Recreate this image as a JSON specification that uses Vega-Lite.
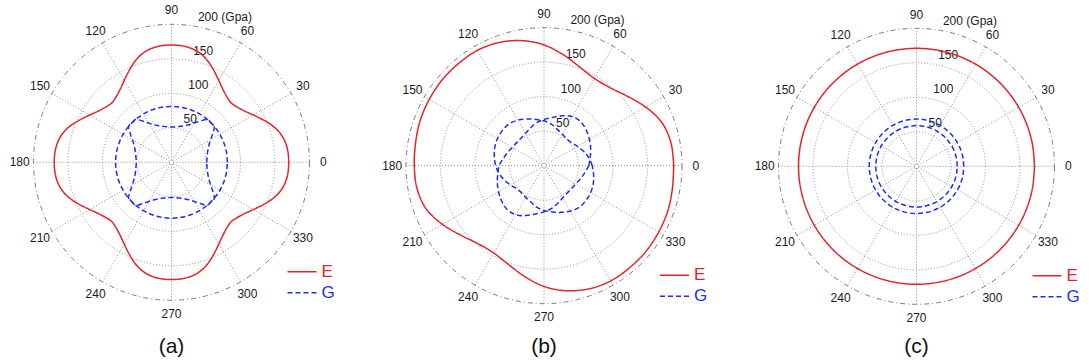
{
"$schema": "https://vega.github.io/schema/vega-lite/v6.json",
"padding": {"left": 1.5, "top": 4, "right": 0, "bottom": 0},
"background": "white",
"spacing": 32.5,
"bounds": "flush",
"config": {
 "font": "Liberation Sans",
 "view": {"stroke": null},
 "axis": {"disable": true},
 "title": {"fontSize": 21, "fontWeight": "normal", "color": "#111111", "font": "Liberation Sans"},
 "text": {"font": "Liberation Sans", "fontSize": 12, "color": "#1a1a1a"},
 "line": {"interpolate": "catmull-rom"},
 "legend": {"symbolType": "stroke", "symbolSize": 841, "symbolStrokeWidth": 1.5, "labelFontSize": 17, "labelFont": "Liberation Sans", "clipHeight": 21, "rowPadding": 0, "labelOffset": 4, "padding": 0}
},
"datasets": {
 "rings": [{"ring": 50}, {"ring": 100}, {"ring": 150}, {"ring": 200}],
 "angles": [{"t": 0}, {"t": 30}, {"t": 60}, {"t": 90}, {"t": 120}, {"t": 150}, {"t": 180}, {"t": 210}, {"t": 240}, {"t": 270}, {"t": 300}, {"t": 330}],
 "rlabels": [{"ring": 50, "lab": "50"}, {"ring": 100, "lab": "100"}, {"ring": 150, "lab": "150"}, {"ring": 200, "lab": "200 (Gpa)"}],
 "curves": [
{"p":"a","s":"E","c":1,"t":0,"r":170},{"p":"a","s":"E","c":1,"t":5,"r":169.5},{"p":"a","s":"E","c":1,"t":10,"r":167.5},{"p":"a","s":"E","c":1,"t":15,"r":163},{"p":"a","s":"E","c":1,"t":20,"r":155.5},{"p":"a","s":"E","c":1,"t":25,"r":146},{"p":"a","s":"E","c":1,"t":30,"r":137},{"p":"a","s":"E","c":1,"t":35,"r":129.5},{"p":"a","s":"E","c":1,"t":40,"r":124.5},{"p":"a","s":"E","c":1,"t":45,"r":122},{"p":"a","s":"E","c":1,"t":50,"r":124.5},{"p":"a","s":"E","c":1,"t":55,"r":129.5},{"p":"a","s":"E","c":1,"t":60,"r":137},{"p":"a","s":"E","c":1,"t":65,"r":146},{"p":"a","s":"E","c":1,"t":70,"r":155.5},{"p":"a","s":"E","c":1,"t":75,"r":163},{"p":"a","s":"E","c":1,"t":80,"r":167.5},{"p":"a","s":"E","c":1,"t":85,"r":169.5},
{"p":"a","s":"E","c":1,"t":90,"r":170},{"p":"a","s":"E","c":1,"t":95,"r":169.5},{"p":"a","s":"E","c":1,"t":100,"r":167.5},{"p":"a","s":"E","c":1,"t":105,"r":163},{"p":"a","s":"E","c":1,"t":110,"r":155.5},{"p":"a","s":"E","c":1,"t":115,"r":146},{"p":"a","s":"E","c":1,"t":120,"r":137},{"p":"a","s":"E","c":1,"t":125,"r":129.5},{"p":"a","s":"E","c":1,"t":130,"r":124.5},{"p":"a","s":"E","c":1,"t":135,"r":122},{"p":"a","s":"E","c":1,"t":140,"r":124.5},{"p":"a","s":"E","c":1,"t":145,"r":129.5},{"p":"a","s":"E","c":1,"t":150,"r":137},{"p":"a","s":"E","c":1,"t":155,"r":146},{"p":"a","s":"E","c":1,"t":160,"r":155.5},{"p":"a","s":"E","c":1,"t":165,"r":163},{"p":"a","s":"E","c":1,"t":170,"r":167.5},{"p":"a","s":"E","c":1,"t":175,"r":169.5},
{"p":"a","s":"E","c":1,"t":180,"r":170},{"p":"a","s":"E","c":1,"t":185,"r":169.5},{"p":"a","s":"E","c":1,"t":190,"r":167.5},{"p":"a","s":"E","c":1,"t":195,"r":163},{"p":"a","s":"E","c":1,"t":200,"r":155.5},{"p":"a","s":"E","c":1,"t":205,"r":146},{"p":"a","s":"E","c":1,"t":210,"r":137},{"p":"a","s":"E","c":1,"t":215,"r":129.5},{"p":"a","s":"E","c":1,"t":220,"r":124.5},{"p":"a","s":"E","c":1,"t":225,"r":122},{"p":"a","s":"E","c":1,"t":230,"r":124.5},{"p":"a","s":"E","c":1,"t":235,"r":129.5},{"p":"a","s":"E","c":1,"t":240,"r":137},{"p":"a","s":"E","c":1,"t":245,"r":146},{"p":"a","s":"E","c":1,"t":250,"r":155.5},{"p":"a","s":"E","c":1,"t":255,"r":163},{"p":"a","s":"E","c":1,"t":260,"r":167.5},{"p":"a","s":"E","c":1,"t":265,"r":169.5},
{"p":"a","s":"E","c":1,"t":270,"r":170},{"p":"a","s":"E","c":1,"t":275,"r":169.5},{"p":"a","s":"E","c":1,"t":280,"r":167.5},{"p":"a","s":"E","c":1,"t":285,"r":163},{"p":"a","s":"E","c":1,"t":290,"r":155.5},{"p":"a","s":"E","c":1,"t":295,"r":146},{"p":"a","s":"E","c":1,"t":300,"r":137},{"p":"a","s":"E","c":1,"t":305,"r":129.5},{"p":"a","s":"E","c":1,"t":310,"r":124.5},{"p":"a","s":"E","c":1,"t":315,"r":122},{"p":"a","s":"E","c":1,"t":320,"r":124.5},{"p":"a","s":"E","c":1,"t":325,"r":129.5},{"p":"a","s":"E","c":1,"t":330,"r":137},{"p":"a","s":"E","c":1,"t":335,"r":146},{"p":"a","s":"E","c":1,"t":340,"r":155.5},{"p":"a","s":"E","c":1,"t":345,"r":163},{"p":"a","s":"E","c":1,"t":350,"r":167.5},{"p":"a","s":"E","c":1,"t":355,"r":169.5},{"p":"a","s":"E","c":1,"t":360,"r":170},

{"p":"a","s":"G","c":1,"t":0,"r":81},{"p":"a","s":"G","c":1,"t":10,"r":81},{"p":"a","s":"G","c":1,"t":20,"r":81},{"p":"a","s":"G","c":1,"t":30,"r":81},{"p":"a","s":"G","c":1,"t":40,"r":81},{"p":"a","s":"G","c":1,"t":50,"r":81},{"p":"a","s":"G","c":1,"t":60,"r":81},{"p":"a","s":"G","c":1,"t":70,"r":81},{"p":"a","s":"G","c":1,"t":80,"r":81},{"p":"a","s":"G","c":1,"t":90,"r":81},{"p":"a","s":"G","c":1,"t":100,"r":81},{"p":"a","s":"G","c":1,"t":110,"r":81},{"p":"a","s":"G","c":1,"t":120,"r":81},{"p":"a","s":"G","c":1,"t":130,"r":81},{"p":"a","s":"G","c":1,"t":140,"r":81},{"p":"a","s":"G","c":1,"t":150,"r":81},{"p":"a","s":"G","c":1,"t":160,"r":81},{"p":"a","s":"G","c":1,"t":170,"r":81},{"p":"a","s":"G","c":1,"t":180,"r":81},{"p":"a","s":"G","c":1,"t":190,"r":81},{"p":"a","s":"G","c":1,"t":200,"r":81},{"p":"a","s":"G","c":1,"t":210,"r":81},{"p":"a","s":"G","c":1,"t":220,"r":81},{"p":"a","s":"G","c":1,"t":230,"r":81},{"p":"a","s":"G","c":1,"t":240,"r":81},{"p":"a","s":"G","c":1,"t":250,"r":81},{"p":"a","s":"G","c":1,"t":260,"r":81},{"p":"a","s":"G","c":1,"t":270,"r":81},{"p":"a","s":"G","c":1,"t":280,"r":81},{"p":"a","s":"G","c":1,"t":290,"r":81},{"p":"a","s":"G","c":1,"t":300,"r":81},{"p":"a","s":"G","c":1,"t":310,"r":81},{"p":"a","s":"G","c":1,"t":320,"r":81},{"p":"a","s":"G","c":1,"t":330,"r":81},{"p":"a","s":"G","c":1,"t":340,"r":81},{"p":"a","s":"G","c":1,"t":350,"r":81},{"p":"a","s":"G","c":1,"t":360,"r":81},

{"p":"a","s":"G","c":2,"t":0,"r":51},{"p":"a","s":"G","c":2,"t":5,"r":51.5},{"p":"a","s":"G","c":2,"t":10,"r":52.5},{"p":"a","s":"G","c":2,"t":15,"r":54},{"p":"a","s":"G","c":2,"t":20,"r":56.5},{"p":"a","s":"G","c":2,"t":25,"r":60},{"p":"a","s":"G","c":2,"t":30,"r":65.5},{"p":"a","s":"G","c":2,"t":35,"r":73},{"p":"a","s":"G","c":2,"t":40,"r":81},{"p":"a","s":"G","c":2,"t":45,"r":81},{"p":"a","s":"G","c":2,"t":50,"r":81},{"p":"a","s":"G","c":2,"t":55,"r":73},{"p":"a","s":"G","c":2,"t":60,"r":65.5},{"p":"a","s":"G","c":2,"t":65,"r":60},{"p":"a","s":"G","c":2,"t":70,"r":56.5},{"p":"a","s":"G","c":2,"t":75,"r":54},{"p":"a","s":"G","c":2,"t":80,"r":52.5},{"p":"a","s":"G","c":2,"t":85,"r":51.5},
{"p":"a","s":"G","c":2,"t":90,"r":51},{"p":"a","s":"G","c":2,"t":95,"r":51.5},{"p":"a","s":"G","c":2,"t":100,"r":52.5},{"p":"a","s":"G","c":2,"t":105,"r":54},{"p":"a","s":"G","c":2,"t":110,"r":56.5},{"p":"a","s":"G","c":2,"t":115,"r":60},{"p":"a","s":"G","c":2,"t":120,"r":65.5},{"p":"a","s":"G","c":2,"t":125,"r":73},{"p":"a","s":"G","c":2,"t":130,"r":81},{"p":"a","s":"G","c":2,"t":135,"r":81},{"p":"a","s":"G","c":2,"t":140,"r":81},{"p":"a","s":"G","c":2,"t":145,"r":73},{"p":"a","s":"G","c":2,"t":150,"r":65.5},{"p":"a","s":"G","c":2,"t":155,"r":60},{"p":"a","s":"G","c":2,"t":160,"r":56.5},{"p":"a","s":"G","c":2,"t":165,"r":54},{"p":"a","s":"G","c":2,"t":170,"r":52.5},{"p":"a","s":"G","c":2,"t":175,"r":51.5},
{"p":"a","s":"G","c":2,"t":180,"r":51},{"p":"a","s":"G","c":2,"t":185,"r":51.5},{"p":"a","s":"G","c":2,"t":190,"r":52.5},{"p":"a","s":"G","c":2,"t":195,"r":54},{"p":"a","s":"G","c":2,"t":200,"r":56.5},{"p":"a","s":"G","c":2,"t":205,"r":60},{"p":"a","s":"G","c":2,"t":210,"r":65.5},{"p":"a","s":"G","c":2,"t":215,"r":73},{"p":"a","s":"G","c":2,"t":220,"r":81},{"p":"a","s":"G","c":2,"t":225,"r":81},{"p":"a","s":"G","c":2,"t":230,"r":81},{"p":"a","s":"G","c":2,"t":235,"r":73},{"p":"a","s":"G","c":2,"t":240,"r":65.5},{"p":"a","s":"G","c":2,"t":245,"r":60},{"p":"a","s":"G","c":2,"t":250,"r":56.5},{"p":"a","s":"G","c":2,"t":255,"r":54},{"p":"a","s":"G","c":2,"t":260,"r":52.5},{"p":"a","s":"G","c":2,"t":265,"r":51.5},
{"p":"a","s":"G","c":2,"t":270,"r":51},{"p":"a","s":"G","c":2,"t":275,"r":51.5},{"p":"a","s":"G","c":2,"t":280,"r":52.5},{"p":"a","s":"G","c":2,"t":285,"r":54},{"p":"a","s":"G","c":2,"t":290,"r":56.5},{"p":"a","s":"G","c":2,"t":295,"r":60},{"p":"a","s":"G","c":2,"t":300,"r":65.5},{"p":"a","s":"G","c":2,"t":305,"r":73},{"p":"a","s":"G","c":2,"t":310,"r":81},{"p":"a","s":"G","c":2,"t":315,"r":81},{"p":"a","s":"G","c":2,"t":320,"r":81},{"p":"a","s":"G","c":2,"t":325,"r":73},{"p":"a","s":"G","c":2,"t":330,"r":65.5},{"p":"a","s":"G","c":2,"t":335,"r":60},{"p":"a","s":"G","c":2,"t":340,"r":56.5},{"p":"a","s":"G","c":2,"t":345,"r":54},{"p":"a","s":"G","c":2,"t":350,"r":52.5},{"p":"a","s":"G","c":2,"t":355,"r":51.5},{"p":"a","s":"G","c":2,"t":360,"r":51},

{"p":"b","s":"E","c":1,"t":0,"r":188},{"p":"b","s":"E","c":1,"t":10,"r":187},{"p":"b","s":"E","c":1,"t":20,"r":182},{"p":"b","s":"E","c":1,"t":30,"r":170},{"p":"b","s":"E","c":1,"t":40,"r":157},{"p":"b","s":"E","c":1,"t":50,"r":148},{"p":"b","s":"E","c":1,"t":60,"r":146},{"p":"b","s":"E","c":1,"t":70,"r":152},{"p":"b","s":"E","c":1,"t":80,"r":163},{"p":"b","s":"E","c":1,"t":90,"r":175},{"p":"b","s":"E","c":1,"t":100,"r":184},{"p":"b","s":"E","c":1,"t":110,"r":190},{"p":"b","s":"E","c":1,"t":120,"r":193},{"p":"b","s":"E","c":1,"t":130,"r":193},{"p":"b","s":"E","c":1,"t":140,"r":193},{"p":"b","s":"E","c":1,"t":150,"r":192},{"p":"b","s":"E","c":1,"t":160,"r":191},{"p":"b","s":"E","c":1,"t":170,"r":189},
{"p":"b","s":"E","c":1,"t":180,"r":188},{"p":"b","s":"E","c":1,"t":190,"r":187},{"p":"b","s":"E","c":1,"t":200,"r":182},{"p":"b","s":"E","c":1,"t":210,"r":170},{"p":"b","s":"E","c":1,"t":220,"r":157},{"p":"b","s":"E","c":1,"t":230,"r":148},{"p":"b","s":"E","c":1,"t":240,"r":146},{"p":"b","s":"E","c":1,"t":250,"r":152},{"p":"b","s":"E","c":1,"t":260,"r":163},{"p":"b","s":"E","c":1,"t":270,"r":175},{"p":"b","s":"E","c":1,"t":280,"r":184},{"p":"b","s":"E","c":1,"t":290,"r":190},{"p":"b","s":"E","c":1,"t":300,"r":193},{"p":"b","s":"E","c":1,"t":310,"r":193},{"p":"b","s":"E","c":1,"t":320,"r":193},{"p":"b","s":"E","c":1,"t":330,"r":192},{"p":"b","s":"E","c":1,"t":340,"r":191},{"p":"b","s":"E","c":1,"t":350,"r":189},{"p":"b","s":"E","c":1,"t":360,"r":188},

{"p":"b","s":"G","c":1,"t":0,"r":65},{"p":"b","s":"G","c":1,"t":10,"r":68},{"p":"b","s":"G","c":1,"t":20,"r":72},{"p":"b","s":"G","c":1,"t":30,"r":76},{"p":"b","s":"G","c":1,"t":40,"r":80},{"p":"b","s":"G","c":1,"t":50,"r":83},{"p":"b","s":"G","c":1,"t":60,"r":82},{"p":"b","s":"G","c":1,"t":70,"r":77},{"p":"b","s":"G","c":1,"t":80,"r":71},{"p":"b","s":"G","c":1,"t":90,"r":67},{"p":"b","s":"G","c":1,"t":100,"r":63},{"p":"b","s":"G","c":1,"t":110,"r":58},{"p":"b","s":"G","c":1,"t":120,"r":54},{"p":"b","s":"G","c":1,"t":130,"r":52},{"p":"b","s":"G","c":1,"t":140,"r":52},{"p":"b","s":"G","c":1,"t":150,"r":53},{"p":"b","s":"G","c":1,"t":160,"r":56},{"p":"b","s":"G","c":1,"t":170,"r":60},
{"p":"b","s":"G","c":1,"t":180,"r":65},{"p":"b","s":"G","c":1,"t":190,"r":68},{"p":"b","s":"G","c":1,"t":200,"r":72},{"p":"b","s":"G","c":1,"t":210,"r":76},{"p":"b","s":"G","c":1,"t":220,"r":80},{"p":"b","s":"G","c":1,"t":230,"r":83},{"p":"b","s":"G","c":1,"t":240,"r":82},{"p":"b","s":"G","c":1,"t":250,"r":77},{"p":"b","s":"G","c":1,"t":260,"r":71},{"p":"b","s":"G","c":1,"t":270,"r":67},{"p":"b","s":"G","c":1,"t":280,"r":63},{"p":"b","s":"G","c":1,"t":290,"r":58},{"p":"b","s":"G","c":1,"t":300,"r":54},{"p":"b","s":"G","c":1,"t":310,"r":52},{"p":"b","s":"G","c":1,"t":320,"r":52},{"p":"b","s":"G","c":1,"t":330,"r":53},{"p":"b","s":"G","c":1,"t":340,"r":56},{"p":"b","s":"G","c":1,"t":350,"r":60},{"p":"b","s":"G","c":1,"t":360,"r":65},

{"p":"b","s":"G","c":2,"t":0,"r":70},{"p":"b","s":"G","c":2,"t":10,"r":66},{"p":"b","s":"G","c":2,"t":20,"r":61},{"p":"b","s":"G","c":2,"t":30,"r":56},{"p":"b","s":"G","c":2,"t":40,"r":52},{"p":"b","s":"G","c":2,"t":50,"r":51},{"p":"b","s":"G","c":2,"t":60,"r":53},{"p":"b","s":"G","c":2,"t":70,"r":56},{"p":"b","s":"G","c":2,"t":80,"r":61},{"p":"b","s":"G","c":2,"t":90,"r":65},{"p":"b","s":"G","c":2,"t":100,"r":68},{"p":"b","s":"G","c":2,"t":110,"r":72},{"p":"b","s":"G","c":2,"t":120,"r":76},{"p":"b","s":"G","c":2,"t":130,"r":79},{"p":"b","s":"G","c":2,"t":140,"r":79},{"p":"b","s":"G","c":2,"t":150,"r":78},{"p":"b","s":"G","c":2,"t":160,"r":76},{"p":"b","s":"G","c":2,"t":170,"r":73},
{"p":"b","s":"G","c":2,"t":180,"r":70},{"p":"b","s":"G","c":2,"t":190,"r":66},{"p":"b","s":"G","c":2,"t":200,"r":61},{"p":"b","s":"G","c":2,"t":210,"r":56},{"p":"b","s":"G","c":2,"t":220,"r":52},{"p":"b","s":"G","c":2,"t":230,"r":51},{"p":"b","s":"G","c":2,"t":240,"r":53},{"p":"b","s":"G","c":2,"t":250,"r":56},{"p":"b","s":"G","c":2,"t":260,"r":61},{"p":"b","s":"G","c":2,"t":270,"r":65},{"p":"b","s":"G","c":2,"t":280,"r":68},{"p":"b","s":"G","c":2,"t":290,"r":72},{"p":"b","s":"G","c":2,"t":300,"r":76},{"p":"b","s":"G","c":2,"t":310,"r":79},{"p":"b","s":"G","c":2,"t":320,"r":79},{"p":"b","s":"G","c":2,"t":330,"r":78},{"p":"b","s":"G","c":2,"t":340,"r":76},{"p":"b","s":"G","c":2,"t":350,"r":73},{"p":"b","s":"G","c":2,"t":360,"r":70},

{"p":"c","s":"E","c":1,"t":0,"r":171},{"p":"c","s":"E","c":1,"t":10,"r":171},{"p":"c","s":"E","c":1,"t":20,"r":171},{"p":"c","s":"E","c":1,"t":30,"r":171},{"p":"c","s":"E","c":1,"t":40,"r":171},{"p":"c","s":"E","c":1,"t":50,"r":171},{"p":"c","s":"E","c":1,"t":60,"r":171},{"p":"c","s":"E","c":1,"t":70,"r":171},{"p":"c","s":"E","c":1,"t":80,"r":171},{"p":"c","s":"E","c":1,"t":90,"r":171},{"p":"c","s":"E","c":1,"t":100,"r":171},{"p":"c","s":"E","c":1,"t":110,"r":171},{"p":"c","s":"E","c":1,"t":120,"r":171},{"p":"c","s":"E","c":1,"t":130,"r":171},{"p":"c","s":"E","c":1,"t":140,"r":171},{"p":"c","s":"E","c":1,"t":150,"r":171},{"p":"c","s":"E","c":1,"t":160,"r":171},{"p":"c","s":"E","c":1,"t":170,"r":171},{"p":"c","s":"E","c":1,"t":180,"r":171},{"p":"c","s":"E","c":1,"t":190,"r":171},{"p":"c","s":"E","c":1,"t":200,"r":171},{"p":"c","s":"E","c":1,"t":210,"r":171},{"p":"c","s":"E","c":1,"t":220,"r":171},{"p":"c","s":"E","c":1,"t":230,"r":171},{"p":"c","s":"E","c":1,"t":240,"r":171},{"p":"c","s":"E","c":1,"t":250,"r":171},{"p":"c","s":"E","c":1,"t":260,"r":171},{"p":"c","s":"E","c":1,"t":270,"r":171},{"p":"c","s":"E","c":1,"t":280,"r":171},{"p":"c","s":"E","c":1,"t":290,"r":171},{"p":"c","s":"E","c":1,"t":300,"r":171},{"p":"c","s":"E","c":1,"t":310,"r":171},{"p":"c","s":"E","c":1,"t":320,"r":171},{"p":"c","s":"E","c":1,"t":330,"r":171},{"p":"c","s":"E","c":1,"t":340,"r":171},{"p":"c","s":"E","c":1,"t":350,"r":171},{"p":"c","s":"E","c":1,"t":360,"r":171},

{"p":"c","s":"G","c":1,"t":0,"r":68.5},{"p":"c","s":"G","c":1,"t":10,"r":68.5},{"p":"c","s":"G","c":1,"t":20,"r":68.5},{"p":"c","s":"G","c":1,"t":30,"r":68.5},{"p":"c","s":"G","c":1,"t":40,"r":68.5},{"p":"c","s":"G","c":1,"t":50,"r":68.5},{"p":"c","s":"G","c":1,"t":60,"r":68.5},{"p":"c","s":"G","c":1,"t":70,"r":68.5},{"p":"c","s":"G","c":1,"t":80,"r":68.5},{"p":"c","s":"G","c":1,"t":90,"r":68.5},{"p":"c","s":"G","c":1,"t":100,"r":68.5},{"p":"c","s":"G","c":1,"t":110,"r":68.5},{"p":"c","s":"G","c":1,"t":120,"r":68.5},{"p":"c","s":"G","c":1,"t":130,"r":68.5},{"p":"c","s":"G","c":1,"t":140,"r":68.5},{"p":"c","s":"G","c":1,"t":150,"r":68.5},{"p":"c","s":"G","c":1,"t":160,"r":68.5},{"p":"c","s":"G","c":1,"t":170,"r":68.5},{"p":"c","s":"G","c":1,"t":180,"r":68.5},{"p":"c","s":"G","c":1,"t":190,"r":68.5},{"p":"c","s":"G","c":1,"t":200,"r":68.5},{"p":"c","s":"G","c":1,"t":210,"r":68.5},{"p":"c","s":"G","c":1,"t":220,"r":68.5},{"p":"c","s":"G","c":1,"t":230,"r":68.5},{"p":"c","s":"G","c":1,"t":240,"r":68.5},{"p":"c","s":"G","c":1,"t":250,"r":68.5},{"p":"c","s":"G","c":1,"t":260,"r":68.5},{"p":"c","s":"G","c":1,"t":270,"r":68.5},{"p":"c","s":"G","c":1,"t":280,"r":68.5},{"p":"c","s":"G","c":1,"t":290,"r":68.5},{"p":"c","s":"G","c":1,"t":300,"r":68.5},{"p":"c","s":"G","c":1,"t":310,"r":68.5},{"p":"c","s":"G","c":1,"t":320,"r":68.5},{"p":"c","s":"G","c":1,"t":330,"r":68.5},{"p":"c","s":"G","c":1,"t":340,"r":68.5},{"p":"c","s":"G","c":1,"t":350,"r":68.5},{"p":"c","s":"G","c":1,"t":360,"r":68.5},

{"p":"c","s":"G","c":2,"t":0,"r":59},{"p":"c","s":"G","c":2,"t":10,"r":59},{"p":"c","s":"G","c":2,"t":20,"r":59},{"p":"c","s":"G","c":2,"t":30,"r":59},{"p":"c","s":"G","c":2,"t":40,"r":59},{"p":"c","s":"G","c":2,"t":50,"r":59},{"p":"c","s":"G","c":2,"t":60,"r":59},{"p":"c","s":"G","c":2,"t":70,"r":59},{"p":"c","s":"G","c":2,"t":80,"r":59},{"p":"c","s":"G","c":2,"t":90,"r":59},{"p":"c","s":"G","c":2,"t":100,"r":59},{"p":"c","s":"G","c":2,"t":110,"r":59},{"p":"c","s":"G","c":2,"t":120,"r":59},{"p":"c","s":"G","c":2,"t":130,"r":59},{"p":"c","s":"G","c":2,"t":140,"r":59},{"p":"c","s":"G","c":2,"t":150,"r":59},{"p":"c","s":"G","c":2,"t":160,"r":59},{"p":"c","s":"G","c":2,"t":170,"r":59},{"p":"c","s":"G","c":2,"t":180,"r":59},{"p":"c","s":"G","c":2,"t":190,"r":59},{"p":"c","s":"G","c":2,"t":200,"r":59},{"p":"c","s":"G","c":2,"t":210,"r":59},{"p":"c","s":"G","c":2,"t":220,"r":59},{"p":"c","s":"G","c":2,"t":230,"r":59},{"p":"c","s":"G","c":2,"t":240,"r":59},{"p":"c","s":"G","c":2,"t":250,"r":59},{"p":"c","s":"G","c":2,"t":260,"r":59},{"p":"c","s":"G","c":2,"t":270,"r":59},{"p":"c","s":"G","c":2,"t":280,"r":59},{"p":"c","s":"G","c":2,"t":290,"r":59},{"p":"c","s":"G","c":2,"t":300,"r":59},{"p":"c","s":"G","c":2,"t":310,"r":59},{"p":"c","s":"G","c":2,"t":320,"r":59},{"p":"c","s":"G","c":2,"t":330,"r":59},{"p":"c","s":"G","c":2,"t":340,"r":59},{"p":"c","s":"G","c":2,"t":350,"r":59},{"p":"c","s":"G","c":2,"t":360,"r":59}
 ]
},
"resolve": {
 "scale": {"x": "independent", "y": "independent", "size": "independent", "color": "independent", "strokeDash": "independent"},
 "legend": {"color": "independent", "strokeDash": "independent"}
},
"hconcat": [
 {
  "width": 340, "height": 320,
  "title": {"text": "(a)", "orient": "bottom", "offset": 9},
  "layer": [
   {"data": {"name": "rings"}, "transform": [{"filter": "datum.ring < 200"}],
    "mark": {"type": "point", "shape": "circle", "filled": false, "opacity": 1, "stroke": "#8c8c8c", "strokeWidth": 1, "strokeDash": [1, 2]},
    "encoding": {"x": {"datum": 0, "type": "quantitative", "scale": {"domain": [-246.38, 246.38], "nice": false, "zero": false}}, "y": {"datum": 0, "type": "quantitative", "scale": {"domain": [-238.7, 225.07], "nice": false, "zero": false}}, "size": {"field": "ring", "type": "quantitative", "scale": {"type": "pow", "exponent": 2, "domain": [0, 200], "range": [0, 76176], "nice": false, "zero": true}, "legend": null}}},
   {"data": {"name": "rings"}, "transform": [{"filter": "datum.ring == 200"}],
    "mark": {"type": "point", "shape": "circle", "filled": false, "opacity": 1, "stroke": "#7a7a7a", "strokeWidth": 1, "strokeDash": [5, 3, 1, 3]},
    "encoding": {"x": {"datum": 0, "type": "quantitative", "scale": {"domain": [-246.38, 246.38], "nice": false, "zero": false}}, "y": {"datum": 0, "type": "quantitative", "scale": {"domain": [-238.7, 225.07], "nice": false, "zero": false}}, "size": {"field": "ring", "type": "quantitative", "scale": {"type": "pow", "exponent": 2, "domain": [0, 200], "range": [0, 76176], "nice": false, "zero": true}, "legend": null}}},
   {"data": {"name": "angles"}, "transform": [{"calculate": "200*cos(datum.t*PI/180)", "as": "ex"}, {"calculate": "200*sin(datum.t*PI/180)", "as": "ey"}],
    "mark": {"type": "rule", "stroke": "#8c8c8c", "strokeWidth": 1, "strokeDash": [1, 2]},
    "encoding": {"x": {"field": "ex", "type": "quantitative", "scale": {"domain": [-246.38, 246.38], "nice": false, "zero": false}}, "y": {"field": "ey", "type": "quantitative", "scale": {"domain": [-238.7, 225.07], "nice": false, "zero": false}}, "x2": {"datum": 0}, "y2": {"datum": 0}}},
   {"data": {"name": "angles"}, "transform": [{"calculate": "220*cos(datum.t*PI/180)", "as": "lx"}, {"calculate": "220*sin(datum.t*PI/180)", "as": "ly"}],
    "mark": {"type": "text", "align": "center", "baseline": "middle", "fontSize": 12},
    "encoding": {"x": {"field": "lx", "type": "quantitative", "scale": {"domain": [-246.38, 246.38], "nice": false, "zero": false}}, "y": {"field": "ly", "type": "quantitative", "scale": {"domain": [-238.7, 225.07], "nice": false, "zero": false}}, "text": {"field": "t", "type": "quantitative"}}},
   {"data": {"name": "rlabels"}, "transform": [{"calculate": "(datum.ring+2.5)*cos(82*PI/180)", "as": "lx"}, {"calculate": "(datum.ring+2.5)*sin(82*PI/180)", "as": "ly"}],
    "mark": {"type": "text", "align": "left", "baseline": "bottom", "dx": 7, "fontSize": 12},
    "encoding": {"x": {"field": "lx", "type": "quantitative", "scale": {"domain": [-246.38, 246.38], "nice": false, "zero": false}}, "y": {"field": "ly", "type": "quantitative", "scale": {"domain": [-238.7, 225.07], "nice": false, "zero": false}}, "text": {"field": "lab", "type": "nominal"}}},
   {"data": {"name": "curves"}, "transform": [{"filter": "datum.p == 'a'"}, {"calculate": "datum.r*cos(datum.t*PI/180)", "as": "x"}, {"calculate": "datum.r*sin(datum.t*PI/180)", "as": "y"}],
    "mark": {"type": "line", "strokeWidth": 1.5},
    "encoding": {
     "x": {"field": "x", "type": "quantitative", "scale": {"domain": [-246.38, 246.38], "nice": false, "zero": false}},
     "y": {"field": "y", "type": "quantitative", "scale": {"domain": [-238.7, 225.07], "nice": false, "zero": false}},
     "order": {"field": "t", "type": "quantitative"},
     "detail": {"field": "c", "type": "nominal"},
     "color": {"field": "s", "type": "nominal", "scale": {"domain": ["E", "G"], "range": ["#e3232b", "#1c2cf2"]}, "legend": {"title": null, "orient": "none", "legendX": 285, "legendY": 254.3, "encode": {"labels": {"update": {"fill": {"signal": "datum.value === 'E' ? '#e3232b' : '#1c2cf2'"}}}}}},
     "strokeDash": {"field": "s", "type": "nominal", "scale": {"domain": ["E", "G"], "range": [[1, 0], [5, 3]]}, "legend": {"title": null, "orient": "none", "legendX": 285, "legendY": 254.3, "encode": {"labels": {"update": {"fill": {"signal": "datum.value === 'E' ? '#e3232b' : '#1c2cf2'"}}}}}}
    }}
  ]
 },
 {
  "width": 340, "height": 320,
  "title": {"text": "(b)", "orient": "bottom", "offset": 9},
  "layer": [
   {"data": {"name": "rings"}, "transform": [{"filter": "datum.ring < 200"}],
    "mark": {"type": "point", "shape": "circle", "filled": false, "opacity": 1, "stroke": "#8c8c8c", "strokeWidth": 1, "strokeDash": [1, 2]},
    "encoding": {"x": {"datum": 0, "type": "quantitative", "scale": {"domain": [-246.38, 246.38], "nice": false, "zero": false}}, "y": {"datum": 0, "type": "quantitative", "scale": {"domain": [-233.8, 229.98], "nice": false, "zero": false}}, "size": {"field": "ring", "type": "quantitative", "scale": {"type": "pow", "exponent": 2, "domain": [0, 200], "range": [0, 76176], "nice": false, "zero": true}, "legend": null}}},
   {"data": {"name": "rings"}, "transform": [{"filter": "datum.ring == 200"}],
    "mark": {"type": "point", "shape": "circle", "filled": false, "opacity": 1, "stroke": "#7a7a7a", "strokeWidth": 1, "strokeDash": [5, 3, 1, 3]},
    "encoding": {"x": {"datum": 0, "type": "quantitative", "scale": {"domain": [-246.38, 246.38], "nice": false, "zero": false}}, "y": {"datum": 0, "type": "quantitative", "scale": {"domain": [-233.8, 229.98], "nice": false, "zero": false}}, "size": {"field": "ring", "type": "quantitative", "scale": {"type": "pow", "exponent": 2, "domain": [0, 200], "range": [0, 76176], "nice": false, "zero": true}, "legend": null}}},
   {"data": {"name": "angles"}, "transform": [{"calculate": "200*cos(datum.t*PI/180)", "as": "ex"}, {"calculate": "200*sin(datum.t*PI/180)", "as": "ey"}],
    "mark": {"type": "rule", "stroke": "#8c8c8c", "strokeWidth": 1, "strokeDash": [1, 2]},
    "encoding": {"x": {"field": "ex", "type": "quantitative", "scale": {"domain": [-246.38, 246.38], "nice": false, "zero": false}}, "y": {"field": "ey", "type": "quantitative", "scale": {"domain": [-233.8, 229.98], "nice": false, "zero": false}}, "x2": {"datum": 0}, "y2": {"datum": 0}}},
   {"data": {"name": "angles"}, "transform": [{"calculate": "220*cos(datum.t*PI/180)", "as": "lx"}, {"calculate": "220*sin(datum.t*PI/180)", "as": "ly"}],
    "mark": {"type": "text", "align": "center", "baseline": "middle", "fontSize": 12},
    "encoding": {"x": {"field": "lx", "type": "quantitative", "scale": {"domain": [-246.38, 246.38], "nice": false, "zero": false}}, "y": {"field": "ly", "type": "quantitative", "scale": {"domain": [-233.8, 229.98], "nice": false, "zero": false}}, "text": {"field": "t", "type": "quantitative"}}},
   {"data": {"name": "rlabels"}, "transform": [{"calculate": "(datum.ring+2.5)*cos(82*PI/180)", "as": "lx"}, {"calculate": "(datum.ring+2.5)*sin(82*PI/180)", "as": "ly"}],
    "mark": {"type": "text", "align": "left", "baseline": "bottom", "dx": 7, "fontSize": 12},
    "encoding": {"x": {"field": "lx", "type": "quantitative", "scale": {"domain": [-246.38, 246.38], "nice": false, "zero": false}}, "y": {"field": "ly", "type": "quantitative", "scale": {"domain": [-233.8, 229.98], "nice": false, "zero": false}}, "text": {"field": "lab", "type": "nominal"}}},
   {"data": {"name": "curves"}, "transform": [{"filter": "datum.p == 'b'"}, {"calculate": "datum.r*cos(datum.t*PI/180)", "as": "x"}, {"calculate": "datum.r*sin(datum.t*PI/180)", "as": "y"}],
    "mark": {"type": "line", "strokeWidth": 1.5},
    "encoding": {
     "x": {"field": "x", "type": "quantitative", "scale": {"domain": [-246.38, 246.38], "nice": false, "zero": false}},
     "y": {"field": "y", "type": "quantitative", "scale": {"domain": [-233.8, 229.98], "nice": false, "zero": false}},
     "order": {"field": "t", "type": "quantitative"},
     "detail": {"field": "c", "type": "nominal"},
     "color": {"field": "s", "type": "nominal", "scale": {"domain": ["E", "G"], "range": ["#e3232b", "#1c2cf2"]}, "legend": {"title": null, "orient": "none", "legendX": 285, "legendY": 257.7, "encode": {"labels": {"update": {"fill": {"signal": "datum.value === 'E' ? '#e3232b' : '#1c2cf2'"}}}}}},
     "strokeDash": {"field": "s", "type": "nominal", "scale": {"domain": ["E", "G"], "range": [[1, 0], [5, 3]]}, "legend": {"title": null, "orient": "none", "legendX": 285, "legendY": 257.7, "encode": {"labels": {"update": {"fill": {"signal": "datum.value === 'E' ? '#e3232b' : '#1c2cf2'"}}}}}}
    }}
  ]
 },
 {
  "width": 340, "height": 320,
  "title": {"text": "(c)", "orient": "bottom", "offset": 9},
  "layer": [
   {"data": {"name": "rings"}, "transform": [{"filter": "datum.ring < 200"}],
    "mark": {"type": "point", "shape": "circle", "filled": false, "opacity": 1, "stroke": "#8c8c8c", "strokeWidth": 1, "strokeDash": [1, 2]},
    "encoding": {"x": {"datum": 0, "type": "quantitative", "scale": {"domain": [-246.38, 246.38], "nice": false, "zero": false}}, "y": {"datum": 0, "type": "quantitative", "scale": {"domain": [-232.9, 230.9], "nice": false, "zero": false}}, "size": {"field": "ring", "type": "quantitative", "scale": {"type": "pow", "exponent": 2, "domain": [0, 200], "range": [0, 76176], "nice": false, "zero": true}, "legend": null}}},
   {"data": {"name": "rings"}, "transform": [{"filter": "datum.ring == 200"}],
    "mark": {"type": "point", "shape": "circle", "filled": false, "opacity": 1, "stroke": "#7a7a7a", "strokeWidth": 1, "strokeDash": [5, 3, 1, 3]},
    "encoding": {"x": {"datum": 0, "type": "quantitative", "scale": {"domain": [-246.38, 246.38], "nice": false, "zero": false}}, "y": {"datum": 0, "type": "quantitative", "scale": {"domain": [-232.9, 230.9], "nice": false, "zero": false}}, "size": {"field": "ring", "type": "quantitative", "scale": {"type": "pow", "exponent": 2, "domain": [0, 200], "range": [0, 76176], "nice": false, "zero": true}, "legend": null}}},
   {"data": {"name": "angles"}, "transform": [{"calculate": "200*cos(datum.t*PI/180)", "as": "ex"}, {"calculate": "200*sin(datum.t*PI/180)", "as": "ey"}],
    "mark": {"type": "rule", "stroke": "#8c8c8c", "strokeWidth": 1, "strokeDash": [1, 2]},
    "encoding": {"x": {"field": "ex", "type": "quantitative", "scale": {"domain": [-246.38, 246.38], "nice": false, "zero": false}}, "y": {"field": "ey", "type": "quantitative", "scale": {"domain": [-232.9, 230.9], "nice": false, "zero": false}}, "x2": {"datum": 0}, "y2": {"datum": 0}}},
   {"data": {"name": "angles"}, "transform": [{"calculate": "220*cos(datum.t*PI/180)", "as": "lx"}, {"calculate": "220*sin(datum.t*PI/180)", "as": "ly"}],
    "mark": {"type": "text", "align": "center", "baseline": "middle", "fontSize": 12},
    "encoding": {"x": {"field": "lx", "type": "quantitative", "scale": {"domain": [-246.38, 246.38], "nice": false, "zero": false}}, "y": {"field": "ly", "type": "quantitative", "scale": {"domain": [-232.9, 230.9], "nice": false, "zero": false}}, "text": {"field": "t", "type": "quantitative"}}},
   {"data": {"name": "rlabels"}, "transform": [{"calculate": "(datum.ring+2.5)*cos(82*PI/180)", "as": "lx"}, {"calculate": "(datum.ring+2.5)*sin(82*PI/180)", "as": "ly"}],
    "mark": {"type": "text", "align": "left", "baseline": "bottom", "dx": 7, "fontSize": 12},
    "encoding": {"x": {"field": "lx", "type": "quantitative", "scale": {"domain": [-246.38, 246.38], "nice": false, "zero": false}}, "y": {"field": "ly", "type": "quantitative", "scale": {"domain": [-232.9, 230.9], "nice": false, "zero": false}}, "text": {"field": "lab", "type": "nominal"}}},
   {"data": {"name": "curves"}, "transform": [{"filter": "datum.p == 'c'"}, {"calculate": "datum.r*cos(datum.t*PI/180)", "as": "x"}, {"calculate": "datum.r*sin(datum.t*PI/180)", "as": "y"}],
    "mark": {"type": "line", "strokeWidth": 1.5},
    "encoding": {
     "x": {"field": "x", "type": "quantitative", "scale": {"domain": [-246.38, 246.38], "nice": false, "zero": false}},
     "y": {"field": "y", "type": "quantitative", "scale": {"domain": [-232.9, 230.9], "nice": false, "zero": false}},
     "order": {"field": "t", "type": "quantitative"},
     "detail": {"field": "c", "type": "nominal"},
     "color": {"field": "s", "type": "nominal", "scale": {"domain": ["E", "G"], "range": ["#e3232b", "#1c2cf2"]}, "legend": {"title": null, "orient": "none", "legendX": 285, "legendY": 258.3, "encode": {"labels": {"update": {"fill": {"signal": "datum.value === 'E' ? '#e3232b' : '#1c2cf2'"}}}}}},
     "strokeDash": {"field": "s", "type": "nominal", "scale": {"domain": ["E", "G"], "range": [[1, 0], [5, 3]]}, "legend": {"title": null, "orient": "none", "legendX": 285, "legendY": 258.3, "encode": {"labels": {"update": {"fill": {"signal": "datum.value === 'E' ? '#e3232b' : '#1c2cf2'"}}}}}}
    }}
  ]
 }
]
}
